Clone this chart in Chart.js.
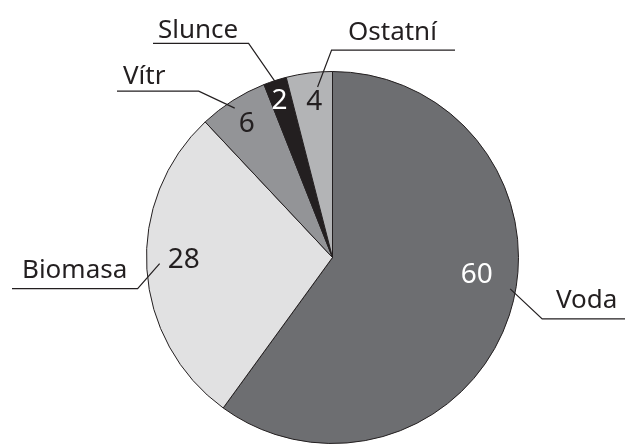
<!DOCTYPE html>
<html>
<head>
<meta charset="utf-8">
<script src="https://cdn.jsdelivr.net/npm/chart.js@4"></script>
<style>
  html, body { margin: 0; padding: 0; background: #fff; }
  canvas { display: block; }
</style>
</head>
<body>
<canvas id="pieChart" width="625" height="445"></canvas>
<script>
// data
const categories = ["Voda", "Biomasa", "Vítr", "Slunce", "Ostatní"];
const shares = [60, 28, 6, 2, 4];
const sliceColors = ["#6d6e71", "#e1e1e2", "#939497", "#231f20", "#b3b4b6"];
const valueColors = ["#ffffff", "#231f20", "#231f20", "#ffffff", "#231f20"];

// label placement (degrees clockwise, fraction of radius, px offsets)
const labelLayout = [
    { valR: 0.78, valRot: -12, anchorR: 0.97, anchorRot: -8, elbow: [32, 30], lineTo: 625, textAt: 556, textUp: 11 },
    { valR: 0.80, valRot: 3.6, anchorR: 0.93, anchorRot: 1.6, elbow: [-22, 25], lineTo: 12, textAt: 22, textUp: 11 },
    { valR: 0.86, valRot: 0, anchorR: 0.96, anchorRot: -0.8, elbow: [-36, -17], lineTo: 117, textAt: 123, textUp: 7 },
    { valR: 0.90, valRot: -0.5, anchorR: 0.99, anchorRot: 0, elbow: [-27, -39], lineTo: 153, textAt: 158, textUp: 5 },
    { valR: 0.85, valRot: 0.6, anchorR: 0.92, anchorRot: 2.2, elbow: [14, -37], lineTo: 455, textAt: 348, textUp: 10 }
];

const NAME_FONT = '26px "Noto Sans", "Open Sans", sans-serif';
const VALUE_FONT = '28px "Noto Sans", "Open Sans", sans-serif';
const INK = "#231f20";

const sliceLabels = {
    id: "sliceLabels",
    afterDatasetsDraw(chart) {
        const ctx = chart.ctx;
        const arcs = chart.getDatasetMeta(0).data;
        ctx.save();
        arcs.forEach((arc, i) => {
            const p = arc.getProps(["x", "y", "startAngle", "endAngle", "outerRadius"], true);
            const mid = (p.startAngle + p.endAngle) / 2;
            const lay = labelLayout[i];
            const rad = d => d * Math.PI / 180;

            // value inside slice
            const va = mid + rad(lay.valRot);
            const vx = p.x + Math.cos(va) * p.outerRadius * lay.valR;
            const vy = p.y + Math.sin(va) * p.outerRadius * lay.valR;
            ctx.font = VALUE_FONT;
            ctx.fillStyle = valueColors[i];
            ctx.textAlign = "center";
            ctx.textBaseline = "alphabetic";
            ctx.fillText(String(shares[i]), vx, vy + 10);

            // leader line
            const aa = mid + rad(lay.anchorRot);
            const ax = p.x + Math.cos(aa) * p.outerRadius * lay.anchorR;
            const ay = p.y + Math.sin(aa) * p.outerRadius * lay.anchorR;
            const ex = ax + lay.elbow[0];
            const ey = ay + lay.elbow[1];
            ctx.strokeStyle = INK;
            ctx.lineWidth = 1.2;
            ctx.beginPath();
            ctx.moveTo(ax, ay);
            ctx.lineTo(ex, ey);
            ctx.lineTo(lay.lineTo, ey);
            ctx.stroke();

            // category name
            ctx.font = NAME_FONT;
            ctx.fillStyle = INK;
            ctx.textAlign = "left";
            ctx.fillText(categories[i], lay.textAt, ey - lay.textUp);
        });
        ctx.restore();
    }
};

new Chart(document.getElementById("pieChart").getContext("2d"), {
    type: "pie",
    data: {
        labels: categories,
        datasets: [{
            data: shares,
            backgroundColor: sliceColors,
            borderColor: INK,
            borderWidth: 1
        }]
    },
    options: {
        responsive: false,
        animation: false,
        layout: { padding: { left: 146, right: 106, top: 71, bottom: 1 } },
        plugins: {
            legend: { display: false },
            tooltip: { enabled: false }
        }
    },
    plugins: [sliceLabels]
});
</script>
</body>
</html>
